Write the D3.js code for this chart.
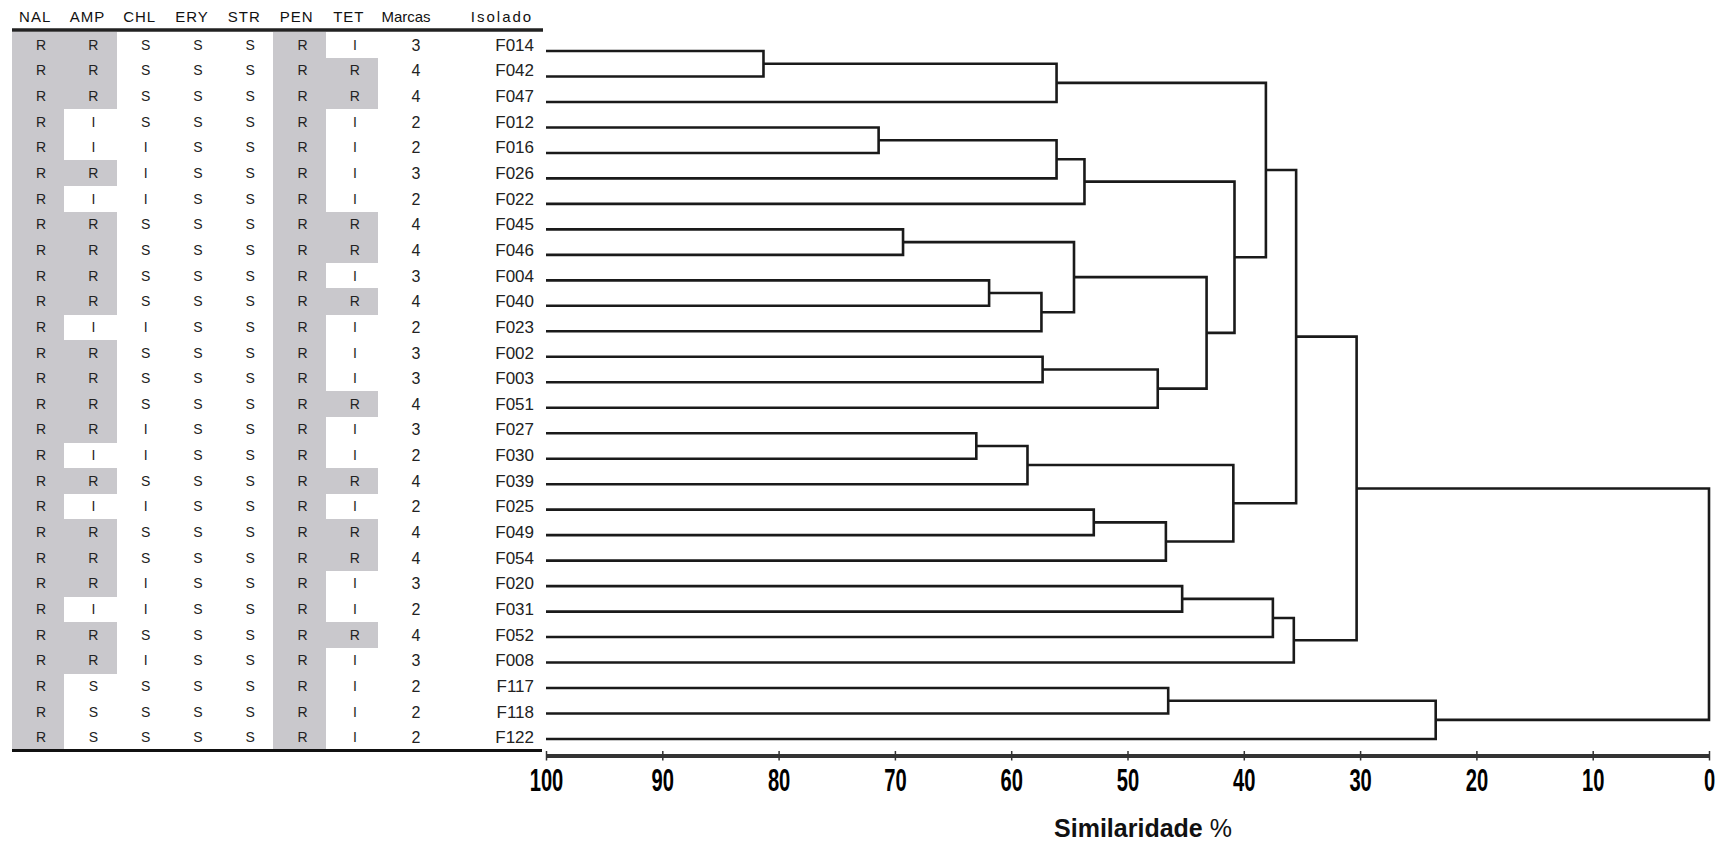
<!DOCTYPE html>
<html>
<head>
<meta charset="utf-8">
<script src="https://cdn.jsdelivr.net/npm/d3@7"></script>
<style>
  body { margin: 0; background: #fff; }
  svg { display: block; font-family: "Liberation Sans", Arial, sans-serif; }
</style>
</head>
<body>
<svg id="chart"></svg>
<script>
// Isolates in dendrogram (leaf) order
const isolates = ["F014", "F042", "F047", "F012", "F016", "F026", "F022", "F045", "F046", "F004",
  "F040", "F023", "F002", "F003", "F051", "F027", "F030", "F039", "F025", "F049",
  "F054", "F020", "F031", "F052", "F008", "F117", "F118", "F122"];

const antibiotics = ["NAL", "AMP", "CHL", "ERY", "STR", "PEN", "TET"];

// Resistance profile per antibiotic (R resistant, I intermediate, S sensitive)
const NAL = ["R","R","R","R","R","R","R","R","R","R","R","R","R","R","R","R","R","R","R","R","R","R","R","R","R","R","R","R"];
const AMP = ["R","R","R","I","I","R","I","R","R","R","R","I","R","R","R","R","I","R","I","R","R","R","I","R","R","S","S","S"];
const CHL = ["S","S","S","S","I","I","I","S","S","S","S","I","S","S","S","I","I","S","I","S","S","I","I","S","I","S","S","S"];
const ERY = ["S","S","S","S","S","S","S","S","S","S","S","S","S","S","S","S","S","S","S","S","S","S","S","S","S","S","S","S"];
const STR = ["S","S","S","S","S","S","S","S","S","S","S","S","S","S","S","S","S","S","S","S","S","S","S","S","S","S","S","S"];
const PEN = ["R","R","R","R","R","R","R","R","R","R","R","R","R","R","R","R","R","R","R","R","R","R","R","R","R","R","R","R"];
const TET = ["I","R","R","I","I","I","I","R","R","I","R","I","I","I","R","I","I","R","I","R","R","I","I","R","I","I","I","I"];
const marcas = [3,4,4,2,2,3,2,4,4,3,4,2,3,3,4,3,2,4,2,4,4,3,2,4,3,2,2,2];

// Dendrogram merges: [left, right, similarity %]; "mN" refers to the N-th merge
const merges = [
  ["F014", "F042", 81.3],  // m0
  ["m0", "F047", 56.1],    // m1
  ["F012", "F016", 71.4],  // m2
  ["m2", "F026", 56.1],    // m3
  ["m3", "F022", 53.7],    // m4
  ["F045", "F046", 69.3],  // m5
  ["F004", "F040", 61.9],  // m6
  ["m6", "F023", 57.4],    // m7
  ["m5", "m7", 54.6],      // m8
  ["F002", "F003", 57.3],  // m9
  ["m9", "F051", 47.4],    // m10
  ["m8", "m10", 43.2],     // m11
  ["m4", "m11", 40.8],     // m12
  ["m1", "m12", 38.1],     // m13
  ["F027", "F030", 63.0],  // m14
  ["m14", "F039", 58.6],   // m15
  ["F025", "F049", 52.9],  // m16
  ["m16", "F054", 46.7],   // m17
  ["m15", "m17", 40.9],    // m18
  ["m13", "m18", 35.5],    // m19
  ["F020", "F031", 45.3],  // m20
  ["m20", "F052", 37.5],   // m21
  ["m21", "F008", 35.7],   // m22
  ["m19", "m22", 30.3],    // m23
  ["F117", "F118", 46.5],  // m24
  ["m24", "F122", 23.5],   // m25
  ["m23", "m25", 0]        // m26
];

const axisTicks = [100, 90, 80, 70, 60, 50, 40, 30, 20, 10, 0];

const table = { NAL, AMP, CHL, ERY, STR, PEN, TET };

const width = 1720;
const height = 846;

const svg = d3.select("#chart").attr("width", width).attr("height", height);

// Scales
const x = d3.scaleLinear().domain([100, 0]).range([546, 1709]);
const yLeaf = d3.scalePoint().domain(isolates).range([51, 739]);
const row = d3.scaleBand().domain(isolates).range([32, 750]);
const col = d3.scaleBand().domain(antibiotics).range([12, 378]);

// ---- table: grey cells for resistant
const cells = [];
antibiotics.forEach((ab) => {
  isolates.forEach((iso, i) => cells.push({ ab, iso, val: table[ab][i] }));
});

svg.append("g")
  .selectAll("rect")
  .data(cells.filter((d) => d.val === "R"))
  .enter()
  .append("rect")
  .attr("x", (d) => col(d.ab))
  .attr("y", (d) => row(d.iso))
  .attr("width", col.bandwidth())
  .attr("height", row.bandwidth() + 0.5)
  .attr("fill", "#c9c8cc")
  .attr("shape-rendering", "crispEdges");

svg.append("g")
  .selectAll("text")
  .data(cells)
  .enter()
  .append("text")
  .attr("x", (d) => col(d.ab) + col.bandwidth() / 2 + 3)
  .attr("y", (d) => row(d.iso) + row.bandwidth() / 2 + 5)
  .attr("text-anchor", "middle")
  .attr("font-size", 14)
  .attr("fill", "#222")
  .text((d) => d.val);

// Marcas column
svg.append("g")
  .selectAll("text")
  .data(isolates)
  .enter()
  .append("text")
  .attr("x", 416)
  .attr("y", (d) => row(d) + row.bandwidth() / 2 + 6)
  .attr("text-anchor", "middle")
  .attr("font-size", 16)
  .attr("fill", "#222")
  .text((d, i) => marcas[i]);

// Isolate labels
svg.append("g")
  .selectAll("text")
  .data(isolates)
  .enter()
  .append("text")
  .attr("x", 534)
  .attr("y", (d) => row(d) + row.bandwidth() / 2 + 6)
  .attr("text-anchor", "end")
  .attr("font-size", 17)
  .attr("fill", "#222")
  .text((d) => d);

// Header
const header = svg.append("g").attr("font-size", 15).attr("fill", "#111");
header.selectAll("text.ab")
  .data(antibiotics)
  .enter()
  .append("text")
  .attr("class", "ab")
  .attr("x", (d) => col(d) + col.bandwidth() / 2 - 3)
  .attr("y", 22)
  .attr("text-anchor", "middle")
  .attr("letter-spacing", 1)
  .text((d) => d);
header.append("text").attr("x", 406).attr("y", 22).attr("text-anchor", "middle").text("Marcas");
header.append("text").attr("x", 502).attr("y", 22).attr("text-anchor", "middle")
  .attr("letter-spacing", 2).text("Isolado");

svg.append("line")
  .attr("x1", 12).attr("x2", 543).attr("y1", 30).attr("y2", 30)
  .attr("stroke", "#222").attr("stroke-width", 3.5);
svg.append("line")
  .attr("x1", 12).attr("x2", 542).attr("y1", 750.5).attr("y2", 750.5)
  .attr("stroke", "#111").attr("stroke-width", 3);

// ---- dendrogram
const nodes = {};
isolates.forEach((id) => { nodes[id] = { id, sim: 100, y: yLeaf(id) }; });
const links = merges.map(([a, b, s], i) => {
  const A = nodes[a];
  const B = nodes[b];
  const n = { id: "m" + i, sim: s, y: (A.y + B.y) / 2, children: [A, B] };
  nodes[n.id] = n;
  return n;
});

svg.append("g")
  .selectAll("path")
  .data(links)
  .enter()
  .append("path")
  .attr("d", (n) => {
    const [A, B] = n.children;
    return `M${x(A.sim)},${A.y}H${x(n.sim)}V${B.y}H${x(B.sim)}`;
  })
  .attr("fill", "none")
  .attr("stroke", "#1a1a1a")
  .attr("stroke-width", 2.6);

// ---- axis
const axis = d3.axisBottom(x)
  .tickValues(axisTicks)
  .tickSize(0)
  .tickPadding(13)
  .tickFormat(d3.format("d"));

const gx = svg.append("g")
  .attr("transform", "translate(0,755.5)")
  .call(axis);

gx.attr("font-family", null);
gx.select(".domain").attr("stroke", "#333").attr("stroke-width", 3.8);
gx.selectAll(".tick line")
  .attr("y1", -4.5)
  .attr("y2", 5)
  .attr("stroke", "#333")
  .attr("stroke-width", 1.5);
gx.selectAll(".tick text")
  .attr("font-size", 32)
  .attr("font-weight", "bold")
  .attr("fill", "#000")
  .attr("transform", "scale(0.63,1)");

const title = svg.append("text")
  .attr("x", 1143)
  .attr("y", 837)
  .attr("text-anchor", "middle")
  .attr("font-size", 25)
  .attr("fill", "#111");
title.append("tspan").attr("font-weight", "bold").text("Similaridade");
title.append("tspan").text(" %");
</script>
</body>
</html>
